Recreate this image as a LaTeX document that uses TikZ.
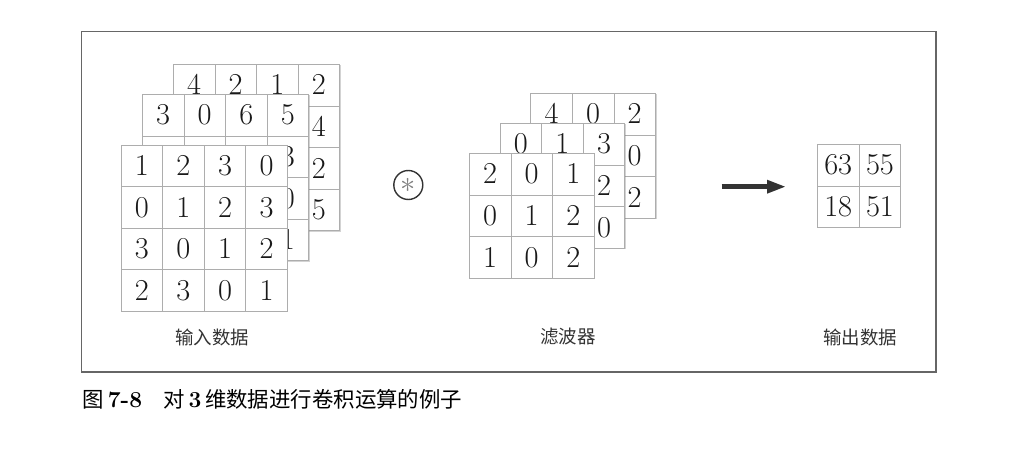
\documentclass[tikz,border=0pt]{standalone}
\usepackage{fontspec}
\newfontfamily\cjk{Noto Sans CJK SC}
\usetikzlibrary{arrows.meta,shadows}

\tikzset{
  cell/.style={draw=black!32, fill=white, minimum size=0.832cm, inner sep=0pt,
    text=black!90, font=\fontsize{16}{19}\selectfont},
  sheet/.style={fill=white, drop shadow={shadow xshift=0.6pt, shadow yshift=-0.6pt, opacity=.35}},
  lbl/.style={text=black!80, font=\cjk\fontsize{10.5}{12}\selectfont},
}

\begin{document}
\begin{tikzpicture}[x=0.02cm, y=-0.02cm]
\useasboundingbox (0,0) rectangle (1029,469);

\draw[black!60, line width=0.9pt] (81.3,31.3) rectangle (936,372);

%input data, back to front
\begin{scope}[shift={(173.3,64.3)}]
\path[sheet] (0,0) rectangle (166.4,166.4);
\foreach \row [count=\r] in {{4,2,1,2},{{},{},{},4},{{},{},{},2},{{},{},{},5}}
  \foreach \v [count=\c] in \row
    \node[cell] (inC-\r-\c) at ({(\c-0.5)*41.6},{(\r-0.5)*41.6}) {$\v$};
\end{scope}

\begin{scope}[shift={(142.3,94.3)}]
\path[sheet] (0,0) rectangle (166.4,166.4);
\foreach \row [count=\r] in {{3,0,6,5},{{},{},{},3},{{},{},{},0},{{},{},{},1}}
  \foreach \v [count=\c] in \row
    \node[cell] (inB-\r-\c) at ({(\c-0.5)*41.6},{(\r-0.5)*41.6}) {$\v$};
\end{scope}

\begin{scope}[shift={(121,145)}]
\path[sheet] (0,0) rectangle (166.4,166.4);
\foreach \row [count=\r] in {{1,2,3,0},{0,1,2,3},{3,0,1,2},{2,3,0,1}}
  \foreach \v [count=\c] in \row
    \node[cell] (inA-\r-\c) at ({(\c-0.5)*41.6},{(\r-0.5)*41.6}) {$\v$};
\end{scope}

%filter, back to front
\begin{scope}[shift={(530.7,93.3)}]
\path[sheet] (0,0) rectangle (124.8,124.8);
\foreach \row [count=\r] in {{4,0,2},{{},{},0},{{},{},2}}
  \foreach \v [count=\c] in \row
    \node[cell] (fC-\r-\c) at ({(\c-0.5)*41.6},{(\r-0.5)*41.6}) {$\v$};
\end{scope}

\begin{scope}[shift={(500,123.3)}]
\path[sheet] (0,0) rectangle (124.8,124.8);
\foreach \row [count=\r] in {{0,1,3},{{},{},2},{{},{},0}}
  \foreach \v [count=\c] in \row
    \node[cell] (fB-\r-\c) at ({(\c-0.5)*41.6},{(\r-0.5)*41.6}) {$\v$};
\end{scope}

\begin{scope}[shift={(469.3,153.3)}]
\path[sheet] (0,0) rectangle (124.8,124.8);
\foreach \row [count=\r] in {{2,0,1},{0,1,2},{1,0,2}}
  \foreach \v [count=\c] in \row
    \node[cell] (fA-\r-\c) at ({(\c-0.5)*41.6},{(\r-0.5)*41.6}) {$\v$};
\end{scope}

%output
\begin{scope}[shift={(817.3,144.3)}]
\foreach \row [count=\r] in {{63,55},{18,51}}
  \foreach \v [count=\c] in \row
    \node[cell] (out-\r-\c) at ({(\c-0.5)*41.8},{(\r-0.5)*41.8}) {$\v$};
\end{scope}

%operator and arrow
\node[draw=black!80, circle, line width=0.8pt, minimum size=0.58cm, inner sep=0pt]
  (conv) at (408.3,185) {\textcolor{black!50}{\LARGE$\ast$}};
\coordinate (arrS) at (721.7,186.7);
\coordinate (arrE) at (786,186.7);
\draw[-{Triangle[length=0.38cm,width=0.25cm]}, line width=0.09cm, black!80] (arrS) -- (arrE);

%labels
\node[lbl] (inLbl) at (212,337) {输入数据};
\node[lbl] (fLbl) at (568,337) {滤波器};
\node[lbl] (outLbl) at (860,337) {输出数据};

\node[anchor=west, inner sep=0pt, text=black, font=\cjk\fontsize{12.2}{14}\selectfont]
  (cap) at (82.5,399.5) {图\,{\rmfamily\bfseries\fontsize{13}{14}\selectfont 7-8}\quad 对\,{\rmfamily\bfseries\fontsize{13}{14}\selectfont 3}\,维数据进行卷积运算的例子};
\end{tikzpicture}
\end{document}
